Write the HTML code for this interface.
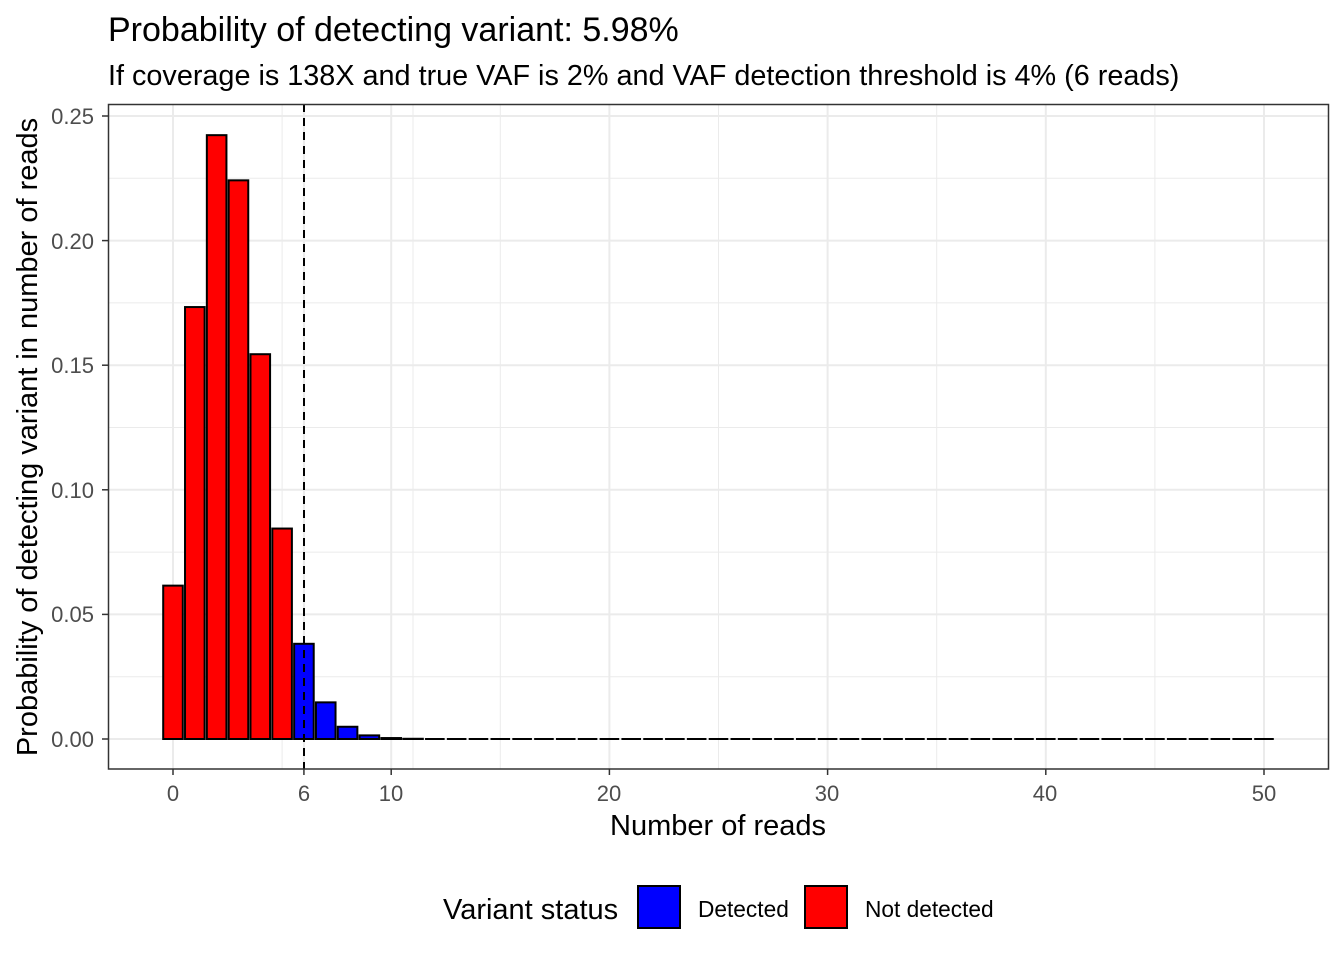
<!DOCTYPE html>
<html><head><meta charset="utf-8"><style>body{margin:0;background:#fff}svg{display:block;font-family:"Liberation Sans",Arial,sans-serif}</style></head>
<body>
<svg id="s" width="1344" height="960" xmlns="http://www.w3.org/2000/svg">
<rect width="1344" height="960" fill="#fff"/>
<text x="108" y="41" font-size="34" fill="#000">Probability of detecting variant: 5.98%</text>
<text x="108" y="85" font-size="28.8" fill="#000">If coverage is 138X and true VAF is 2% and VAF detection threshold is 4% (6 reads)</text>
<g id="grid"></g>
<g id="bars"></g>
<line x1="304" y1="104" x2="304" y2="769" stroke="#000" stroke-width="2" stroke-dasharray="8,6"/>
<rect x="108.5" y="104.5" width="1220" height="664.5" fill="none" stroke="#333" stroke-width="1.5"/>
<g font-size="22" fill="#4d4d4d" text-anchor="end">
<text x="94" y="747">0.00</text><text x="94" y="622">0.05</text><text x="94" y="498">0.10</text><text x="94" y="373">0.15</text><text x="94" y="249">0.20</text><text x="94" y="124">0.25</text>
</g>
<g font-size="22" fill="#4d4d4d" text-anchor="middle">
<text x="173" y="801">0</text><text x="304" y="801">6</text><text x="391" y="801">10</text><text x="609" y="801">20</text><text x="827" y="801">30</text><text x="1045" y="801">40</text><text x="1264" y="801">50</text>
</g>
<text x="718" y="835" font-size="29" text-anchor="middle">Number of reads</text>
<text transform="translate(37,437) rotate(-90)" font-size="29" text-anchor="middle">Probability of detecting variant in number of reads</text>
<text x="443" y="919" font-size="29">Variant status</text>
<rect x="638" y="886" width="42" height="42" fill="#00f" stroke="#000" stroke-width="2"/>
<text x="698" y="917" font-size="22.7">Detected</text>
<rect x="805" y="886" width="42" height="42" fill="#f00" stroke="#000" stroke-width="2"/>
<text x="865" y="917" font-size="22.7">Not detected</text>
</svg>
<script>
var ns="http://www.w3.org/2000/svg";
function el(p,t,a){var e=document.createElementNS(ns,t);for(var k in a)e.setAttribute(k,a[k]);document.getElementById(p).appendChild(e);}
var X=function(v){return 173+21.82*v},Y=function(v){return 739-2492*v};
[5,11,15,25,35,45].forEach(function(v){el("grid","line",{x1:X(v),x2:X(v),y1:104,y2:769,stroke:"#ebebeb","stroke-width":1});});
[0.025,0.075,0.125,0.175,0.225].forEach(function(v){el("grid","line",{x1:108,x2:1329,y1:Y(v),y2:Y(v),stroke:"#ebebeb","stroke-width":1});});
[0,6,10,20,30,40,50].forEach(function(v){el("grid","line",{x1:X(v),x2:X(v),y1:104,y2:769,stroke:"#ebebeb","stroke-width":2});el("grid","line",{x1:X(v),x2:X(v),y1:769,y2:775,stroke:"#333","stroke-width":1.5});});
[0,0.05,0.1,0.15,0.2,0.25].forEach(function(v){el("grid","line",{x1:108,x2:1329,y1:Y(v),y2:Y(v),stroke:"#ebebeb","stroke-width":2});el("grid","line",{x1:102,x2:108,y1:Y(v),y2:Y(v),stroke:"#333","stroke-width":1.5});});
var n=138,p=0.02,pr=Math.pow(1-p,n);
for(var k=0;k<=50;k++){
 if(k>0)pr=pr*(n-k+1)/k*p/(1-p);
 var h=pr*2492;
 if(h<0.05){el("bars","line",{x1:X(k)-9.8,x2:X(k)+9.8,y1:739,y2:739,stroke:"#000","stroke-width":2});}
 else el("bars","rect",{x:X(k)-9.8,y:739-h,width:19.6,height:h,fill:k>=6?"#00f":"#f00",stroke:"#000","stroke-width":2});
}
</script>
</body></html>
